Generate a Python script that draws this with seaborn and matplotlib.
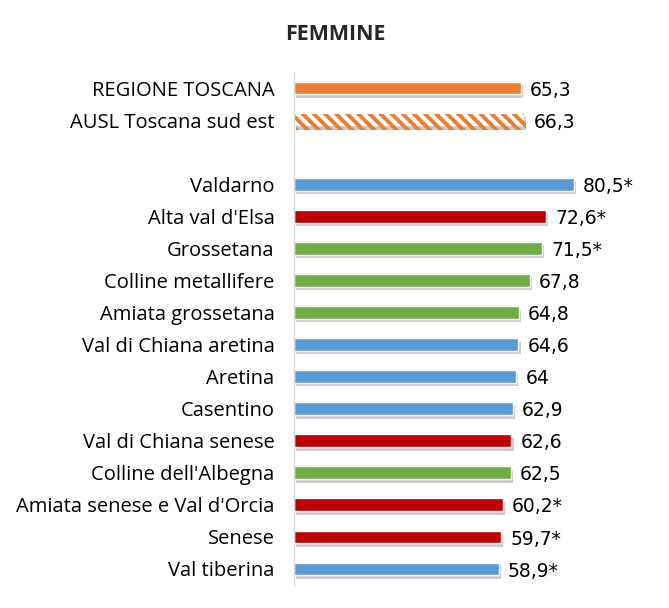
import matplotlib
matplotlib.use("Agg")
import matplotlib.pyplot as plt
import matplotlib.patheffects as pe
import seaborn as sns
import pandas as pd

categories = ["REGIONE TOSCANA", "AUSL Toscana sud est", "Valdarno", "Alta val d'Elsa",
              "Grossetana", "Colline metallifere", "Amiata grossetana", "Val di Chiana aretina",
              "Aretina", "Casentino", "Val di Chiana senese", "Colline dell'Albegna",
              "Amiata senese e Val d'Orcia", "Senese", "Val tiberina"]
values = [65.3, 66.3, 80.5, 72.6, 71.5, 67.8, 64.8, 64.6, 64, 62.9, 62.6, 62.5, 60.2, 59.7, 58.9]
labels = ["65,3", "66,3", "80,5*", "72,6*", "71,5*", "67,8", "64,8", "64,6", "64", "62,9",
          "62,6", "62,5", "60,2*", "59,7*", "58,9*"]
groups = ["reg", "ausl", "az", "si", "gr", "gr", "gr", "az", "az", "az", "si", "gr", "si", "si", "az"]
group_colors = {"reg": "#ED7D31", "ausl": "#FFFFFF", "az": "#5B9BD5", "si": "#C00000", "gr": "#70AD47"}

spacer = " "
order = categories[:2] + [spacer] + categories[2:]

df = pd.DataFrame({"cat": categories, "val": values, "grp": groups})

sns.set_theme(style="white")
plt.rcParams["font.family"] = ["Open Sans", "DejaVu Sans"]
plt.rcParams["hatch.linewidth"] = 2.8

fig = plt.figure(figsize=(6.69, 6.08), dpi=100)
ax = fig.add_axes([0.4395, 0.0378, 0.54, 0.8438])

palette = {c: group_colors[g] for c, g in zip(categories, groups)}
sns.barplot(data=df, y="cat", x="val", hue="cat", order=order, hue_order=order[:2] + order[3:],
            palette=palette, saturation=1, legend=False, width=0.4, ax=ax, orient="h")

shadow = [pe.SimplePatchShadow(offset=(1.5, -2.5), shadow_rgbFace="#7F7F7F", alpha=0.4), pe.Normal()]
for patch in ax.patches:
    patch.set_edgecolor("white")
    patch.set_linewidth(1.0)
    patch.set_path_effects(shadow)

# hatched AUSL bar
ypos = {c: i for i, c in enumerate(order)}
for patch in ax.patches:
    yc = patch.get_y() + patch.get_height() / 2
    if abs(yc - ypos["AUSL Toscana sud est"]) < 0.1:
        patch.set_facecolor("white")
        patch.set_hatch("\\\\\\")
        patch.set_edgecolor("#ED7D31")
        patch.set_linewidth(0)

for c, v, lab in zip(categories, values, labels):
    ax.annotate(lab, (v, ypos[c]), xytext=(6.5, -1.5), textcoords="offset points",
                va="center", ha="left", fontsize=13.5, color="#000000", family="DejaVu Sans")

ax.set_xlim(0, 104)
ax.set_ylim(len(order) - 0.5, -0.5)
ax.set_xlabel("")
ax.set_ylabel("")
ax.set_xticks([])
ax.tick_params(axis="y", length=0, pad=14, labelsize=14.5, labelcolor="#000000")
for s in ["top", "right", "bottom"]:
    ax.spines[s].set_visible(False)
ax.spines["left"].set_color("#D9D9D9")
ax.spines["left"].set_linewidth(1)

fig.text(335 / 669, 1 - 34 / 608, "FEMMINE", ha="center", va="center", fontsize=15.5, fontweight="bold")

fig.savefig("out.png", dpi=100)
